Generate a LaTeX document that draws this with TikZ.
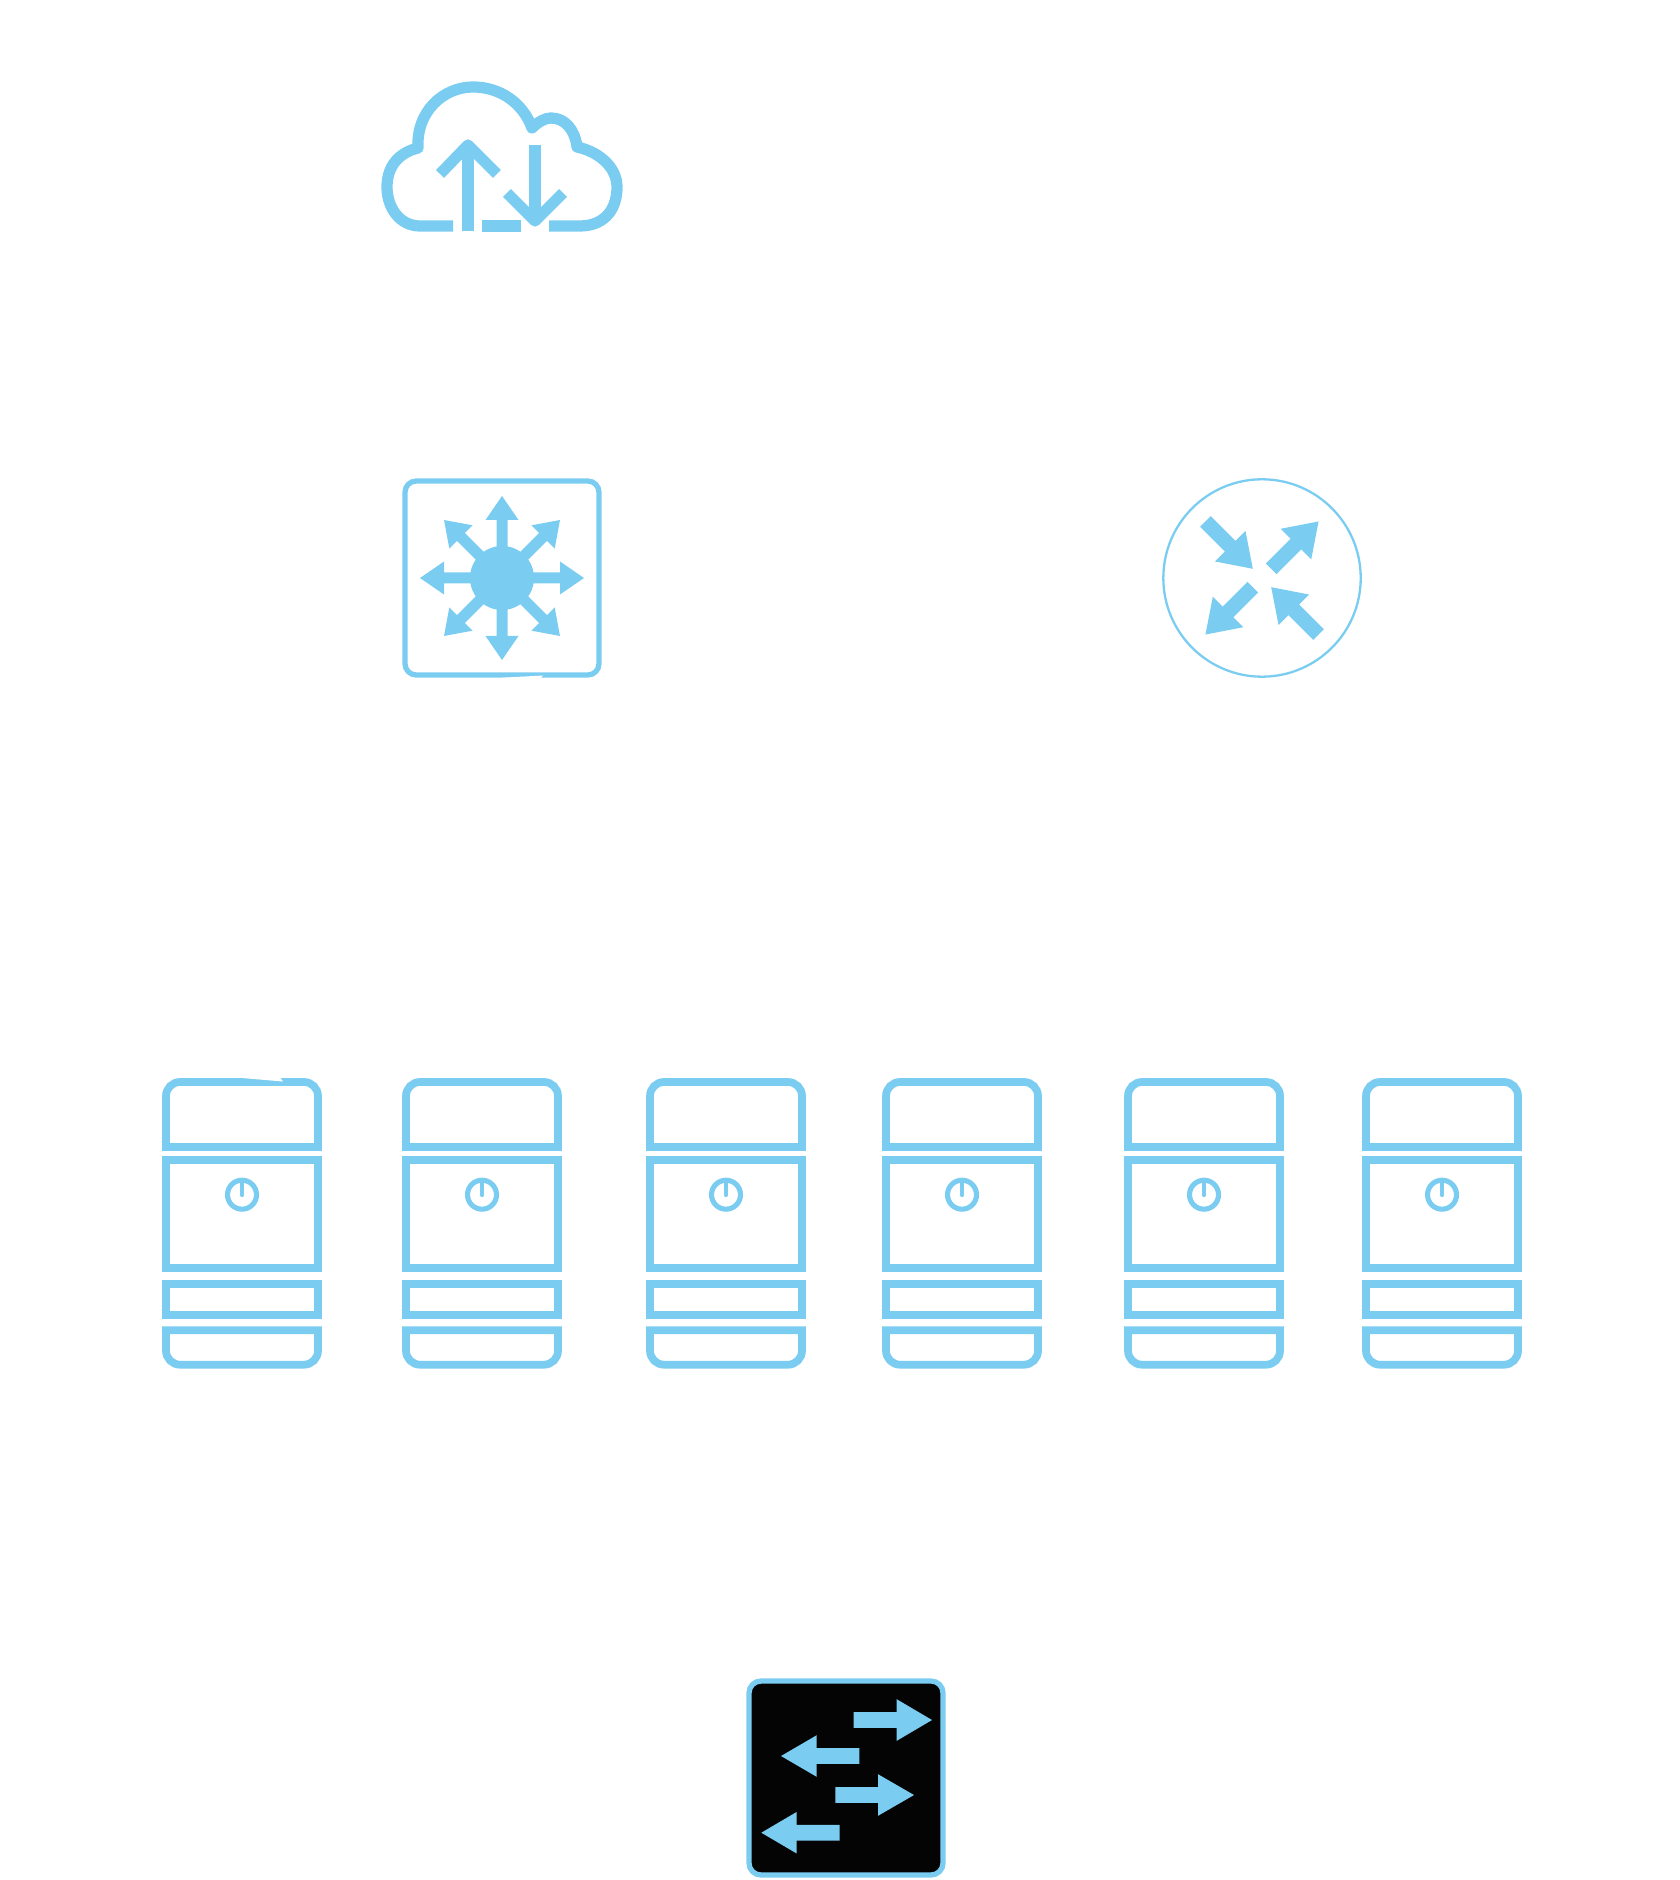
\documentclass[tikz,border=0pt]{standalone}
\usepackage{tikz}

\definecolor{iconblue}{HTML}{7BCCF1}
\definecolor{iconblack}{HTML}{040404}

\tikzset{
    iconline/.style={draw=iconblue, line width=3.2pt, line join=round},
    serverline/.style={draw=iconblue, line width=2.2pt},
}

\begin{document}
\begin{tikzpicture}[x=0.01cm, y=-0.01cm]

\useasboundingbox (0,0) rectangle (1680,1880);

% Nuage
\draw[iconline] (453,226) -- (420,226) .. controls (400,226) and (387,208) .. (387,187)
    .. controls (387,167) and (398,153) .. (418,148)
    .. controls (416,112) and (443,87) .. (473,87)
    .. controls (500,87) and (523,103) .. (532,128)
    .. controls (538,122) and (545,118) .. (551,118)
    .. controls (565,118) and (575,130) .. (577,147)
    .. controls (600,152) and (617,168) .. (617,187)
    .. controls (617,212) and (602,226) .. (580,226) -- (549,226);
\draw[iconline] (482,226) -- (521,226);
\draw[iconline] (468,231) -- (468,145);
\draw[iconline] (440,174) -- (468,145) -- (497,174);
\draw[iconline] (535,145) -- (535,221);
\draw[iconline] (507,193) -- (535,221) -- (563,193);

% Commutateur L3
\draw[draw=iconblue, line width=1.5pt, rounded corners=3.2pt] (405,481) rectangle (599,675);
\fill[white] (503,677.7) -- (543,675.5) -- (540,679) -- (503,679) -- cycle;
\fill[iconblue] (502,578) circle (32);
\foreach \a in {0,45,...,315} {
    \fill[iconblue, shift={(502,578)}, rotate=\a] (25,-5.5) -- (58,-5.5) -- (58,-16.5) -- (82,0)
        -- (58,16.5) -- (58,5.5) -- (25,5.5) -- cycle;
}

% Routeur
\draw[draw=iconblue, line width=0.65pt] (1262,578) circle (98.7);
\foreach \a in {45,225} {
    \fill[iconblue, shift={(1262,578)}, rotate=\a] (13,-7.5) -- (48,-7.5) -- (48,-21.6) -- (80,0)
        -- (48,21.6) -- (48,7.5) -- (13,7.5) -- cycle;
}
\foreach \a in {135,315} {
    \fill[iconblue, shift={(1262,578)}, rotate=\a] (80,-7.5) -- (45,-7.5) -- (45,-21.6) -- (13,0)
        -- (45,21.6) -- (45,7.5) -- (80,7.5) -- cycle;
}

% Serveurs
\foreach \x in {242,482,726,962,1204,1442} {
    \begin{scope}[shift={(\x,0)}]
    \draw[serverline] (-76,1147) -- (-76,1096) .. controls (-76,1088.3) and (-69.7,1082) .. (-62,1082)
        -- (62,1082) .. controls (69.7,1082) and (76,1088.3) .. (76,1096) -- (76,1147) -- cycle;
    \draw[serverline] (-76,1160.3) rectangle (76,1268);
    \draw[serverline] (-76,1283.7) rectangle (76,1315.3);
    \draw[serverline] (-76,1330.3) -- (76,1330.3) -- (76,1350.7) .. controls (76,1358.4) and (69.7,1364.7) .. (62,1364.7)
        -- (-62,1364.7) .. controls (-69.7,1364.7) and (-76,1358.4) .. (-76,1350.7) -- cycle;
    \draw[draw=iconblue, line width=1.45pt] (0,1194.7) circle (14.5);
    \draw[draw=iconblue, line width=1.2pt, line cap=round] (0,1180) -- (0,1195);
    \end{scope}
}
\fill[white] (243,1078.1) -- (283,1081.5) -- (279,1076) -- (243,1076) -- cycle;

% Commutateur
\draw[draw=iconblue, fill=iconblack, line width=1.5pt, rounded corners=3.4pt] (749,1681) rectangle (943,1875);
\foreach \tailx/\basex/\tipx/\cy in {853.7/896.7/932/1720, 859.3/816.7/781/1756, 835.3/878/914/1795, 839.7/796.7/761.3/1832.7} {
    \fill[iconblue] (\tailx,\cy-7.8) -- (\basex,\cy-7.8) -- (\basex,\cy-20.8) -- (\tipx,\cy)
        -- (\basex,\cy+20.8) -- (\basex,\cy+7.8) -- (\tailx,\cy+7.8) -- cycle;
}

\end{tikzpicture}
\end{document}
